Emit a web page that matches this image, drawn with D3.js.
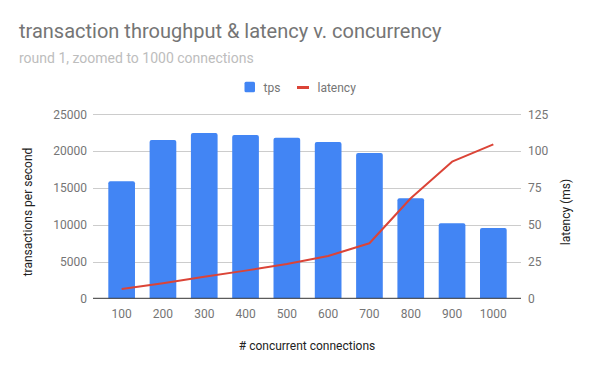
<!DOCTYPE html>
<html><head><meta charset="utf-8">
<script src="https://cdn.jsdelivr.net/npm/d3@7"></script>
<style>body{margin:0;background:#fff;font-family:Roboto,"Noto Sans",sans-serif}</style>
</head><body><svg id="c" width="600" height="371"></svg>
<script>
const categories = ["100","200","300","400","500","600","700","800","900","1000"];
const tps = [15900,21500,22450,22200,21800,21250,19750,13600,10200,9550];
const latency = [6.3,10.2,14.7,18.8,23.3,28.7,37.4,68,92.8,104.6];
const leftTicks = [0,5000,10000,15000,20000,25000];
const rightTicks = [0,25,50,75,100,125];

const svg = d3.select("#c");
const L = 93, R = 521, T = 114.3, B = 298.3;
const x = d3.scaleBand().domain(categories).range([101,514]).paddingInner(0.354).paddingOuter(0.177);
const yL = d3.scaleLinear().domain([0,25000]).range([B,T]);
const yR = d3.scaleLinear().domain([0,125]).range([B,T]);

svg.append("rect").attr("width",600).attr("height",371).attr("fill","#fff");

// title
svg.append("text").attr("x",19).attr("y",37.5).attr("font-size",20).attr("fill","#757575").text("transaction throughput & latency v. concurrency");
svg.append("text").attr("x",19).attr("y",63.3).attr("font-size",14).attr("fill","#bdbdbd").text("round 1, zoomed to 1000 connections");

// legend
const lg = svg.append("g");
lg.append("rect").attr("x",244.5).attr("y",81.7).attr("width",10.5).attr("height",10.5).attr("rx",1.5).attr("fill","#4285f4");
lg.append("text").attr("x",263.5).attr("y",91.5).attr("font-size",12).attr("fill","#757575").text("tps");
lg.append("rect").attr("x",297).attr("y",86).attr("width",12).attr("height",3).attr("fill","#db4437");
lg.append("text").attr("x",317.5).attr("y",91.5).attr("font-size",12).attr("fill","#757575").text("latency");

// gridlines
svg.append("g").selectAll("line").data(leftTicks.slice(1)).join("line")
  .attr("x1",L).attr("x2",R).attr("y1",d=>Math.round(yL(d))+0.5).attr("y2",d=>Math.round(yL(d))+0.5)
  .attr("stroke","#cccccc").attr("stroke-width",1);

// left axis
const axL = d3.axisLeft(yL).tickValues(leftTicks).tickSize(0).tickPadding(6).tickFormat(d3.format("d"));
const gL = svg.append("g").attr("transform",`translate(${L},0)`).call(axL);
gL.select(".domain").remove();
gL.selectAll("text").attr("font-size",12).attr("fill","#757575").attr("font-family","Roboto");

const axR = d3.axisRight(yR).tickValues(rightTicks).tickSize(0).tickPadding(7);
const gR = svg.append("g").attr("transform",`translate(${R},0)`).call(axR);
gR.select(".domain").remove();
gR.selectAll("text").attr("font-size",12).attr("fill","#757575").attr("font-family","Roboto");

// bars
svg.append("g").selectAll("path").data(tps).join("path")
  .attr("fill","#4285f4")
  .attr("d",(d,i)=>{
    const x0=x(categories[i]), w=x.bandwidth(), y0=yL(d), r=2;
    return `M${x0},${B}V${y0+r}Q${x0},${y0} ${x0+r},${y0}H${x0+w-r}Q${x0+w},${y0} ${x0+w},${y0+r}V${B}Z`;
  });

// baseline
svg.append("line").attr("x1",L).attr("x2",R).attr("y1",B).attr("y2",B).attr("stroke","#333").attr("stroke-width",1);

// x axis
const axX = d3.axisBottom(x).tickSize(0).tickPadding(11);
const gX = svg.append("g").attr("transform",`translate(0,${B})`).call(axX);
gX.select(".domain").remove();
gX.selectAll("text").attr("font-size",12).attr("fill","#757575").attr("font-family","Roboto");

// latency line
const line = d3.line().x((d,i)=>x(categories[i])+x.bandwidth()/2).y(d=>yR(d));
svg.append("path").datum(latency).attr("d",line).attr("fill","none").attr("stroke","#db4437").attr("stroke-width",2).attr("stroke-linejoin","round");

// axis titles
svg.append("text").attr("x",307).attr("y",350).attr("text-anchor","middle").attr("font-size",12).attr("fill","#222").text("# concurrent connections");
svg.append("text").attr("transform","translate(32,212) rotate(-90)").attr("text-anchor","middle").attr("font-size",12).attr("fill","#222").text("transactions per second");
svg.append("text").attr("transform","translate(570,212) rotate(-90)").attr("text-anchor","middle").attr("font-size",12).attr("fill","#222").text("latency (ms)");
</script></body></html>
